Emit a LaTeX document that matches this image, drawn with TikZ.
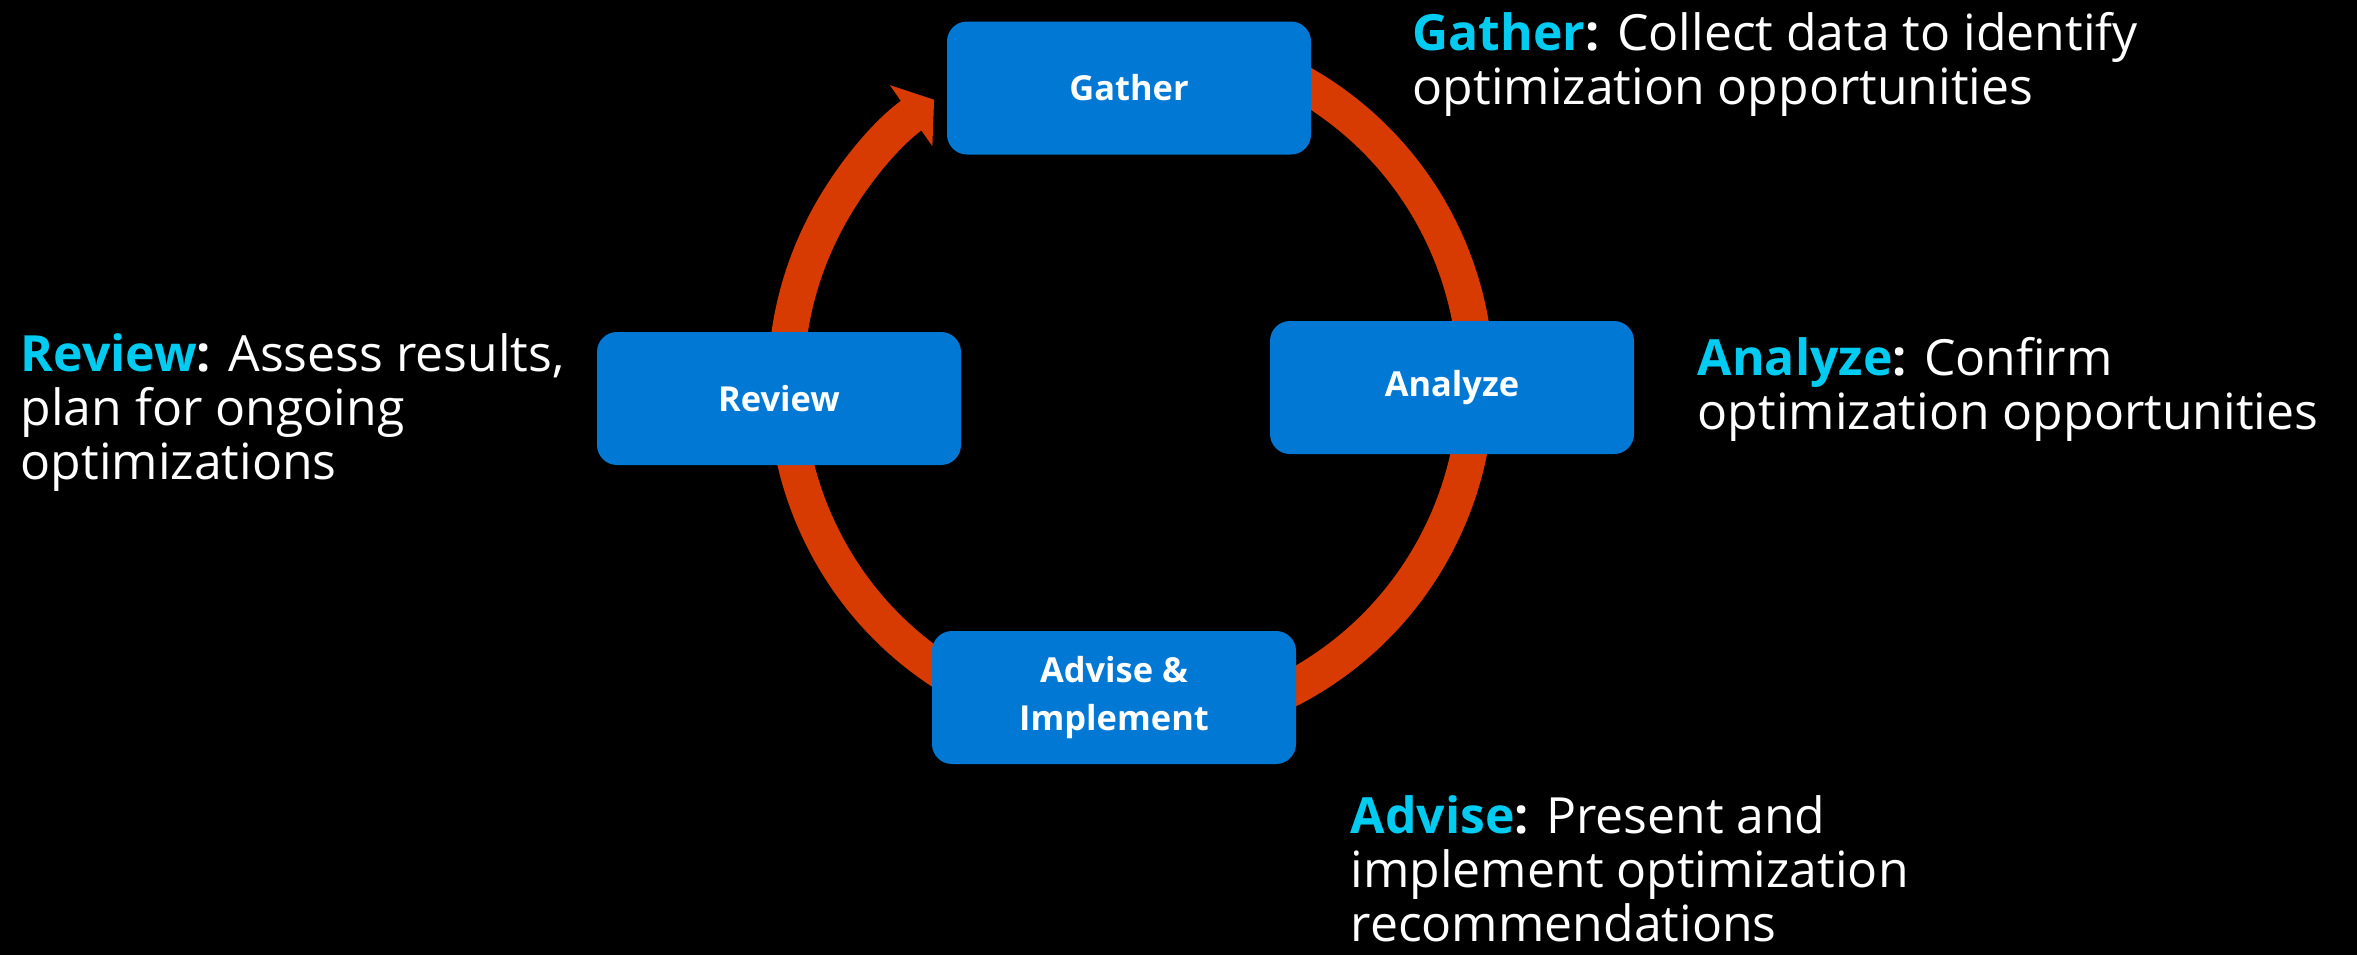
\documentclass[tikz,border=0pt]{standalone}
\usepackage{fontspec}
\setmainfont{Open Sans}
\usetikzlibrary{arrows.meta}
\definecolor{boxblue}{RGB}{0,120,212}
\definecolor{looporange}{RGB}{216,59,1}
\definecolor{labelcyan}{RGB}{0,204,242}
\IfFontExistsTF{Open Sans SemiBold}{\newfontfamily\boxfont{Open Sans SemiBold}}{\newcommand{\boxfont}{\bfseries}}
\newcommand{\stagename}[1]{{\color{labelcyan}\bfseries #1}\textbf{:}}

\begin{document}
\begin{tikzpicture}[>=Latex,
    stage/.style={fill=boxblue, rounded corners=0.2cm, minimum width=3.64cm, minimum height=1.33cm,
      inner sep=0pt, text=white, align=center, font=\boxfont\fontsize{9.8pt}{13.7pt}\selectfont},
    note/.style={anchor=north west, inner sep=0pt, align=left, text=white,
      font=\fontsize{14.2pt}{15.3pt}\selectfont},
    cycleline/.style={draw=looporange, line width=0.36cm, -{Triangle[length=0.28cm, width=0.73cm]}}]
          % black slide
          \fill[black] (0,0) rectangle (23.57,-9.55);

          % the loop, behind the boxes
          \coordinate (loopc) at (11.31,-3.83);
          \draw[cycleline] ([shift={(62:3.45)}]loopc) arc[start angle=62, end angle=-235.2, radius=3.45];

          % stages
          \node[stage] (gather) at (11.29,-0.88) {Gather};
          \node[stage] (analyze) at (14.52,-3.875) {Analyze};
          \node[stage] (advise) at (11.14,-6.975) {Advise \&\\Implement};
          \node[stage] (review) at (7.79,-3.985) {Review};

          % notes next to each stage
          \node[note] (gathernote) at (14.12,-0.12) {\stagename{Gather} Collect data to identify\\optimization opportunities};
          \node[note] (analyzenote) at (16.97,-3.37) {\stagename{Analyze} Confirm\\optimization opportunities};
          \node[note] (advisenote) at (13.50,-7.95) {\stagename{Advise} Present and\\implement optimization\\recommendations};
          \node[note] (reviewnote) at (0.20,-3.33) {\stagename{Review} Assess results,\\plan for ongoing\\optimizations};
        \end{tikzpicture}
\end{document}
